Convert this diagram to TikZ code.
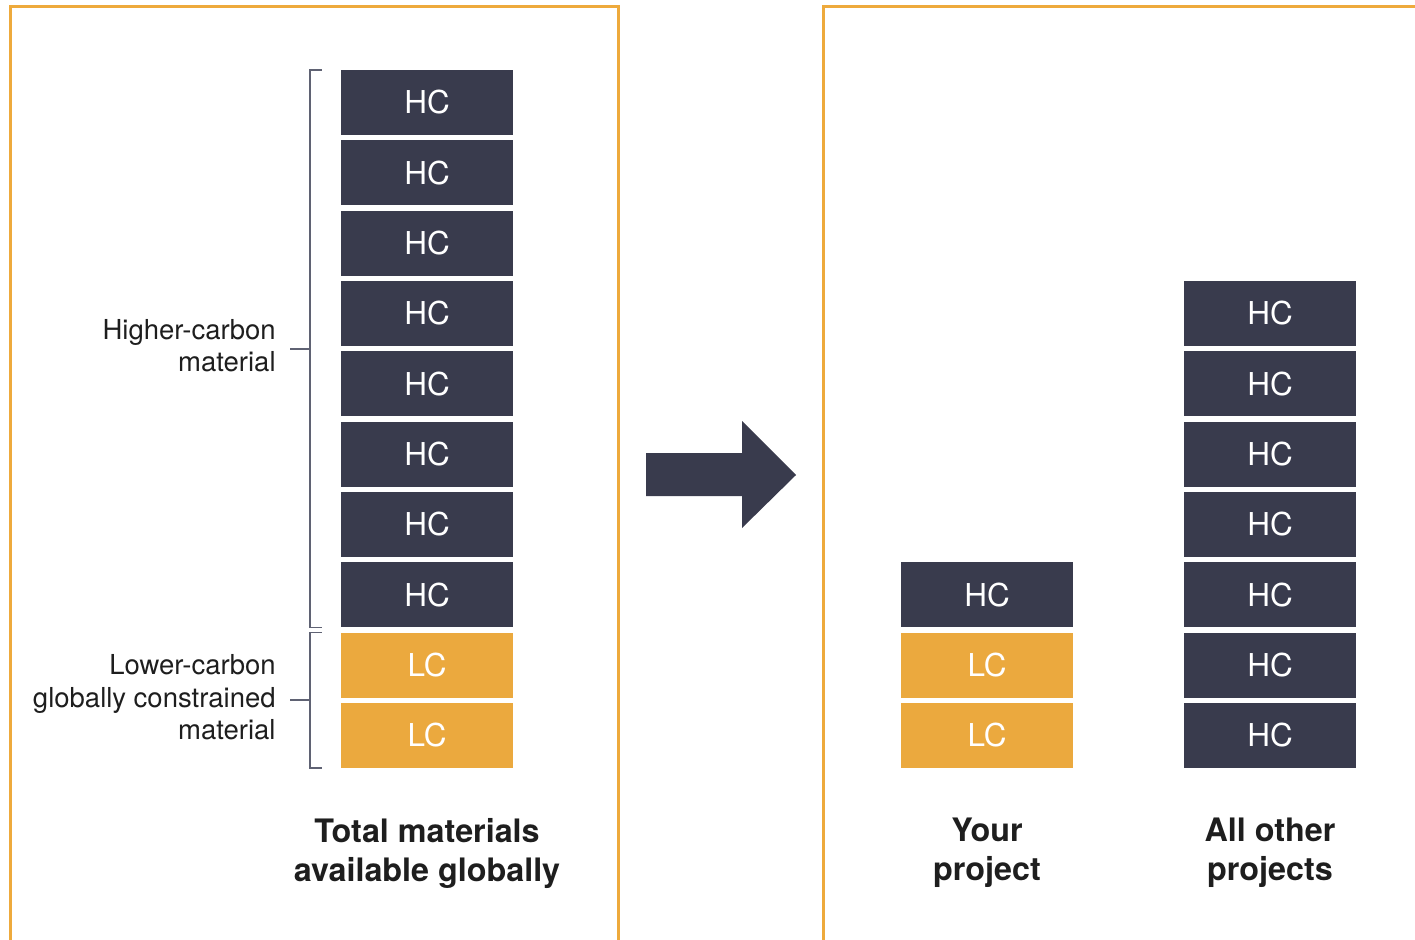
\documentclass[tikz,border=0pt]{standalone}
\usepackage{fontspec}
\setmainfont{TeX Gyre Heros}
\usetikzlibrary{positioning}
\usetikzlibrary{calc}
\definecolor{navy}{RGB}{57,59,77}
\definecolor{amber}{RGB}{235,169,62}
\definecolor{frame}{RGB}{238,170,60}
\definecolor{bracket}{RGB}{95,98,115}
\definecolor{ink}{RGB}{30,30,30}

\begin{document}
\begin{tikzpicture}[x=1pt, y=-1pt,
    block/.style={minimum width=172pt, minimum height=65pt, inner sep=0pt, text=white, font=\fontsize{31.5}{36}\selectfont},
    hcblock/.style={block, fill=navy},
    lcblock/.style={block, fill=amber},
    panel/.style={draw=frame, line width=3pt},
    brace/.style={draw=bracket, line width=1.8pt},
    sidelabel/.style={left, align=right, inner sep=0pt, text=ink, font=\fontsize{27.5}{32.5}\selectfont},
    caption/.style={align=center, inner sep=0pt, text=ink, font=\bfseries\fontsize{32.3}{39}\selectfont}]
    \useasboundingbox (0,0) rectangle (1415,939);
    \clip (0,0) rectangle (1415,939);

    % panels
    \draw[panel] (10,960) -- (10,7) -- (618,7) -- (618,960);
    \draw[panel] (823,960) -- (823,7) -- (1430,7);

    % total materials stack
    \foreach \i in {1,...,8}
        \node[hcblock] (hc\i) at (427, {32.17+70.33*\i}) {HC};
    \node[lcblock] (lc1) at (427, 665.1) {LC};
    \node[lcblock] (lc2) at (427, 735.5) {LC};

    % brackets
    \draw[brace] ($(hc1.north west)+(-19,0)$) -| ($(hc8.south west)+(-31,0)$) -- ++(12,0);
    \draw[brace] ($(hc1.north west)!0.5!(hc8.south west)+(-31,0)$) -- ++(-20,0) coordinate (hcmid);
    \node[sidelabel] (hclabel) at ($(hcmid)+(-14,-3)$) {Higher-carbon\\material};

    \draw[brace] ($(lc1.north west)+(-19,0)$) -| ($(lc2.south west)+(-31,0)$) -- ++(12,0);
    \draw[brace] ($(lc1.north west)!0.5!(lc2.south west)+(-31,0)$) -- ++(-20,0) coordinate (lcmid);
    \node[sidelabel] (lclabel) at ($(lcmid)+(-14,-3)$) {Lower-carbon\\globally constrained\\material};

    % arrow
    \fill[navy] (646,453) -- (742,453) -- (742,421) -- (796,475) -- (742,528) -- (742,496) -- (646,496) -- cycle;

    % your project
    \node[hcblock] (yhc) at (987, 594.8) {HC};
    \node[lcblock] (ylc1) at (987, 665.1) {LC};
    \node[lcblock] (ylc2) at (987, 735.5) {LC};

    % all other projects
    \foreach \i in {4,...,10}
        \node[hcblock] (ohc\i) at (1270, {32.17+70.33*\i}) {HC};

    % captions
    \node[caption] (totalcap) at (427,853) {Total materials\\available globally};
    \node[caption] (yourcap) at (987,853) {Your\\project};
    \node[caption] (othercap) at (1270,853) {All other\\projects};
\end{tikzpicture}
\end{document}
